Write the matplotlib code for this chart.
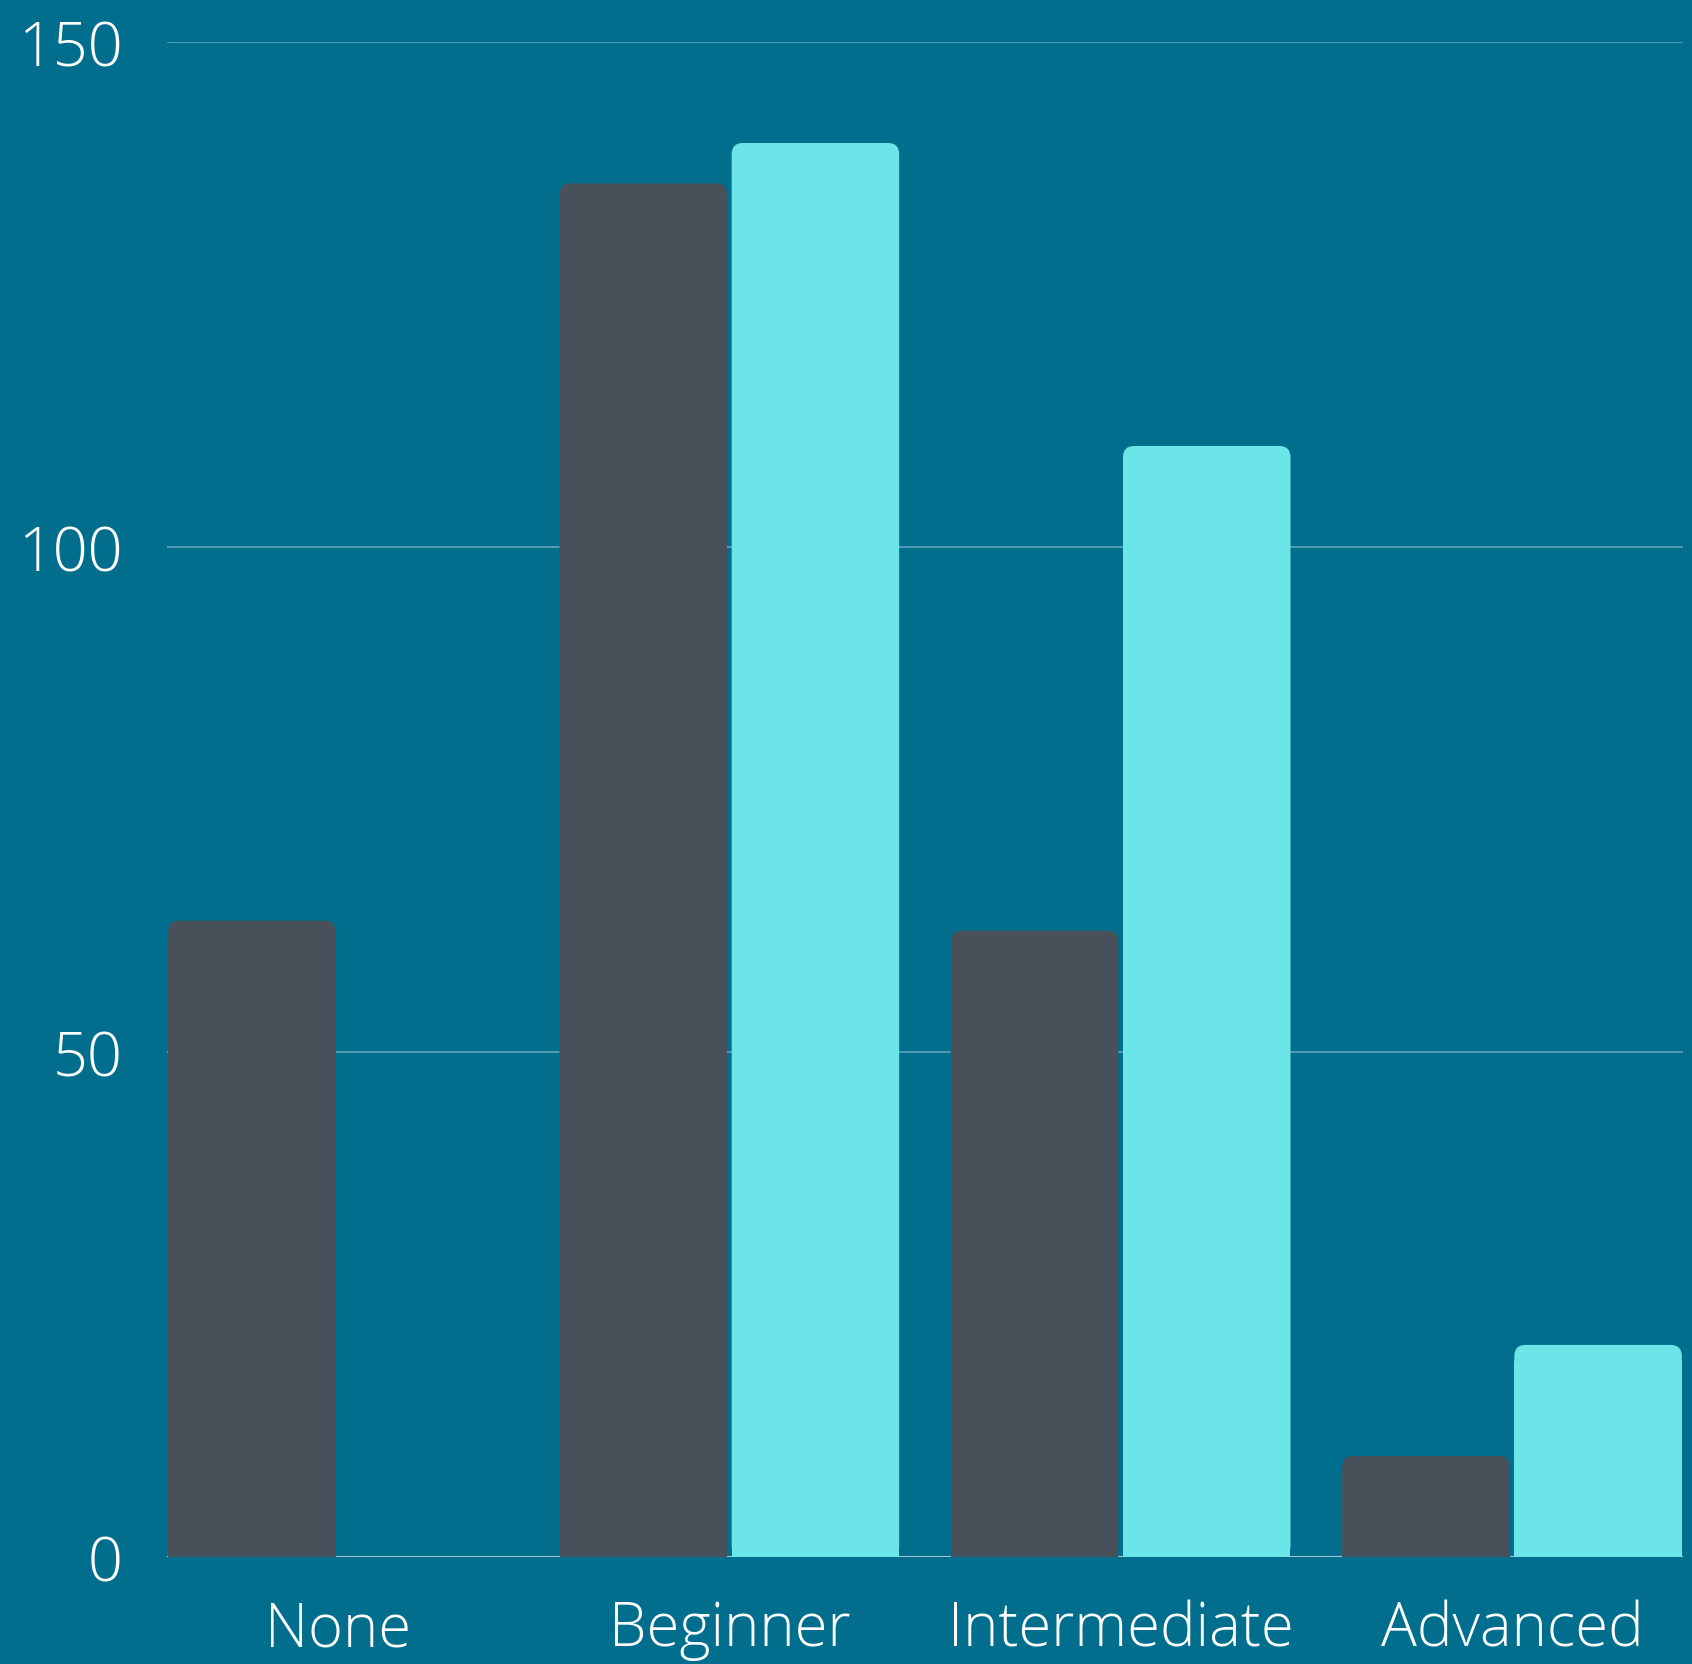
import matplotlib.pyplot as plt
import numpy as np
from matplotlib.patches import FancyBboxPatch, Rectangle

# data
categories = ["None", "Beginner", "Intermediate", "Advanced"]
series_a = [63, 136, 62, 10]
series_b = [0, 140, 110, 21]
yticks = [0, 50, 100, 150]

bg = "#006e8c"
dark = "#485059"
light = "#6ce5e8"

plt.rcParams['font.family'] = ['Open Sans', 'DejaVu Sans']

fig = plt.figure(figsize=(16.92, 16.65), dpi=100, facecolor=bg)
ax = fig.add_axes([167 / 1692, 107 / 1665, 1516 / 1692, 1515 / 1665])
ax.set_facecolor(bg)

x = np.arange(len(categories))
w = 0.428
off = 0.22
xlim = (-0.437, 3.437)
ylim = (0, 150)
ax.set_xlim(*xlim)
ax.set_ylim(*ylim)

# rounded top corners: radius in px converted to data units
r_px = 11
px_per_x = 1516 / (xlim[1] - xlim[0])
px_per_y = 1515 / (ylim[1] - ylim[0])
rx = r_px / px_per_x
ry = r_px / px_per_y


def rounded_bar(xc, h, color):
    if h <= 0:
        return
    left = xc - w / 2
    p = FancyBboxPatch((left, 0), w, h,
                       boxstyle="round,pad=0,rounding_size=%f" % rx,
                       mutation_aspect=ry / rx,
                       facecolor=color, edgecolor="none", zorder=3)
    ax.add_patch(p)
    # square off bottom corners
    ax.add_patch(Rectangle((left, 0), w, max(h - ry * 1.5, 0),
                           facecolor=color, edgecolor="none", zorder=3))


for i in range(len(categories)):
    rounded_bar(x[i] - off, series_a[i], dark)
    rounded_bar(x[i] + off, series_b[i], light)

for t in yticks[1:]:
    ax.axhline(t, color="#5a9fb8", linewidth=1.3, zorder=1)
ax.axhline(0, color="#a4c4cf", linewidth=1.5, zorder=2)

for s in ax.spines.values():
    s.set_visible(False)

ax.set_yticks(yticks)
ax.set_yticklabels([str(t) for t in yticks])
ax.set_xticks(x)
ax.set_xticklabels(categories)
ax.tick_params(axis="both", length=0, colors="white", labelsize=44)
ax.tick_params(axis="x", labelsize=43)
ax.tick_params(axis="y", pad=32)
ax.tick_params(axis="x", pad=30)
for lab in ax.get_xticklabels() + ax.get_yticklabels():
    lab.set_fontweight("light")

fig.savefig("out.png", dpi=100, facecolor=bg)
